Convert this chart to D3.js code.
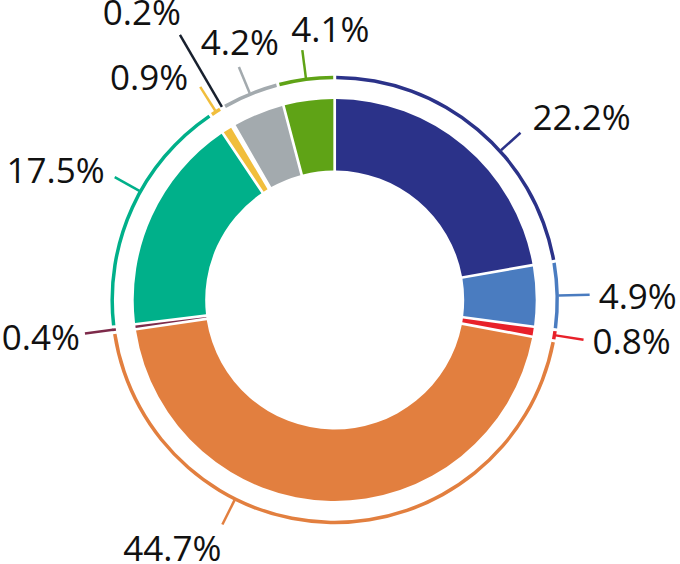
<!DOCTYPE html>
<html>
<head>
<meta charset="utf-8">
<script src="https://cdn.jsdelivr.net/npm/d3@7"></script>
<style>
  html, body { margin: 0; padding: 0; background: #fff; }
  svg { display: block; }
  text { font-family: "Open Sans", "Noto Sans", sans-serif; }
</style>
</head>
<body>
<svg id="chart" width="680" height="564"></svg>
<script>
// ---- Data ----
const categories = ["A", "B", "C", "D", "E", "F", "G", "H", "I", "J"];
const values = [22.2, 4.9, 0.8, 44.7, 0.4, 17.5, 0.9, 0.2, 4.2, 4.1];
const labels = ["22.2%", "4.9%", "0.8%", "44.7%", "0.4%", "17.5%", "0.9%", "0.2%", "4.2%", "4.1%"];
const colors = ["#2b3289", "#4a7cc0", "#e8212a", "#e27f3f", "#7d2a4a", "#00b08a", "#f1be3c", "#18202e", "#a3aaae", "#5fa316"];

// ---- Label layout (angle shift in degrees, leader end radius, anchor, dx, dy) ----
const labelShift = [8, 0, 0, 25.5, 0, 4.6, 0, 0, 0, 0];
const leaderEnd = [250, 255, 252, 251, 252, 252, 252, 307, 252, 252];
const labelAnchor = ["start", "start", "start", "end", "end", "end", "end", "end", "middle", "start"];
const labelDx = [12, 9, 9, -1, -5, -10, -12, 1, 1, -11];
const labelDy = [-3, 14, 14, 37, 16, 6, 3, -10, -12, -8];

const width = 680, height = 564;
const cx = 334.7, cy = 300;
const rOuter = 201, rInner = 129.5;
const ringR = 222.5, ringW = 3.5;

const svg = d3.select("#chart");
const g = svg.append("g").attr("transform", `translate(${cx},${cy})`);

const data = categories.map((c, i) => ({ cat: c, value: values[i], label: labels[i], color: colors[i], i }));

const pie = d3.pie().value(d => d.value).sort(null);
const arcs = pie(data);

const sliceArc = d3.arc()
  .innerRadius(rInner)
  .outerRadius(rOuter)
  .padRadius(rOuter)
  .padAngle(2.7 / rOuter);

const ringArc = d3.arc()
  .innerRadius(ringR - ringW / 2)
  .outerRadius(ringR + ringW / 2)
  .padRadius(ringR)
  .padAngle(3 / ringR);

g.selectAll("path.slice")
  .data(arcs)
  .join("path")
  .attr("class", "slice")
  .attr("d", sliceArc)
  .attr("fill", d => d.data.color);

g.selectAll("path.ring")
  .data(arcs)
  .join("path")
  .attr("class", "ring")
  .attr("d", ringArc)
  .attr("fill", d => d.data.color);

function polar(angle, r) {
  return [Math.sin(angle) * r, -Math.cos(angle) * r];
}

const lab = g.selectAll("g.lab")
  .data(arcs)
  .join("g")
  .attr("class", "lab");

lab.each(function(d) {
  const i = d.data.i;
  const a = (d.startAngle + d.endAngle) / 2 + labelShift[i] * Math.PI / 180;
  const p1 = polar(a, ringR + ringW / 2 - 0.5);
  const p2 = polar(a, leaderEnd[i]);
  const sel = d3.select(this);
  sel.append("line")
    .attr("x1", p1[0]).attr("y1", p1[1])
    .attr("x2", p2[0]).attr("y2", p2[1])
    .attr("stroke", d.data.color)
    .attr("stroke-width", 2.5);
  sel.append("text")
    .attr("x", p2[0] + labelDx[i])
    .attr("y", p2[1] + labelDy[i])
    .attr("text-anchor", labelAnchor[i])
    .attr("font-size", 35)
    .attr("fill", "#111")
    .text(d.data.label);
});
</script>
</body>
</html>
